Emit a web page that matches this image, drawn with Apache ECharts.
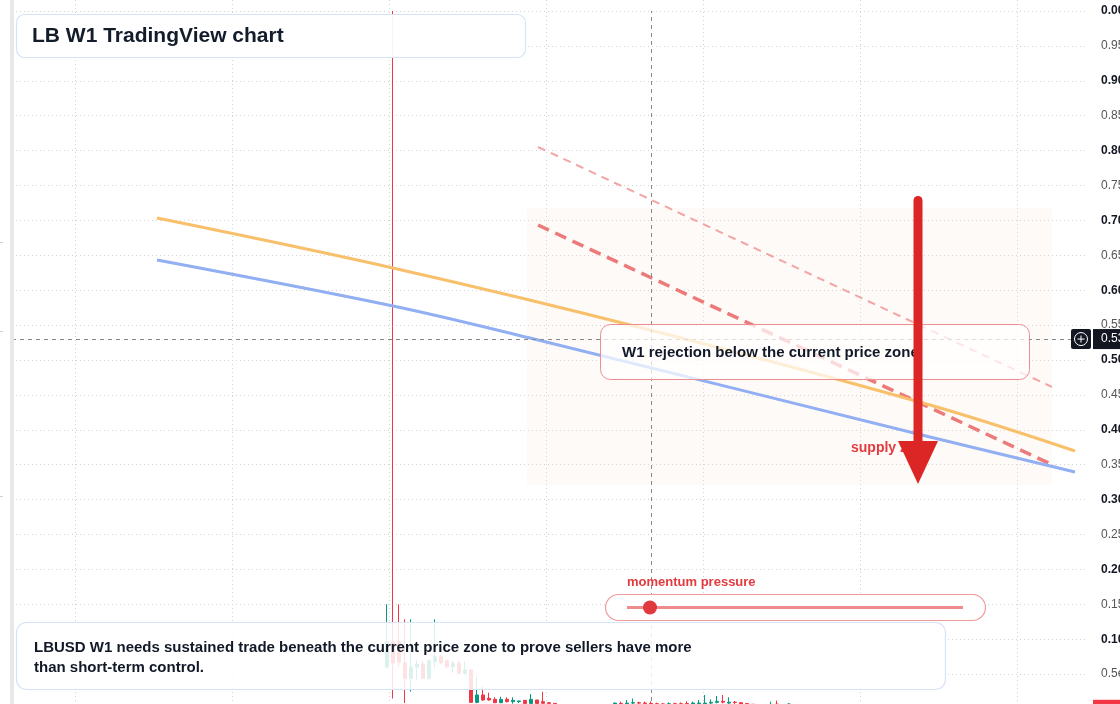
<!DOCTYPE html>
<html><head><meta charset="utf-8">
<script src="https://cdn.jsdelivr.net/npm/echarts@6/dist/echarts.min.js"></script>
<style>html,body{margin:0;padding:0;background:#fff;overflow:hidden}#c{width:1120px;height:704px}</style>
</head><body><div id="c"></div>
<script>
const FONT = '"Liberation Sans", Arial, Helvetica, sans-serif';
const TITLE = 'LB W1 TradingView chart';
const NOTE = 'W1 rejection below the current price zone';
const ZONE_LABEL = 'supply zone';
const MOMENTUM_LABEL = 'momentum pressure';
const FOOTER = 'LBUSD W1 needs sustained trade beneath the current price zone to prove sellers have more\nthan short-term control.';

// weekly categories
const WEEK_COUNT = 179;
const WEEKS = Array.from({length: WEEK_COUNT}, (_, i) => 'W' + (i + 1));

// right price-axis labels, from 1.00 (top) down in 0.05 steps
const Y_TICK_LABELS = ['0.00','0.95','0.90','0.85','0.80','0.75','0.70','0.65','0.60','0.55',
  '0.50','0.45','0.40','0.35','0.30','0.25','0.20','0.15','0.10','0.5e-1'];

// [week index, open, close, low, high]
const CANDLES = [
  [62, 0.060, 0.096, 0.058, 0.150],
  [63, 0.096, 0.066, 0.015, 1.000],
  [64, 0.097, 0.067, 0.060, 0.150],
  [65, 0.066, 0.044, 0.0086, 0.1285],
  [66, 0.044, 0.060, 0.025, 0.1285],
  [67, 0.060, 0.0645, 0.0415, 0.070],
  [68, 0.0645, 0.044, 0.044, 0.069],
  [69, 0.044, 0.069, 0.042, 0.071],
  [70, 0.068, 0.075, 0.0587, 0.1285],
  [71, 0.075, 0.0664, 0.064, 0.077],
  [72, 0.0693, 0.0607, 0.058, 0.071],
  [73, 0.0607, 0.0655, 0.052, 0.0693],
  [74, 0.0655, 0.051, 0.050, 0.0693],
  [75, 0.051, 0.0559, 0.049, 0.0678],
  [76, 0.0559, 0.0095, 0.009, 0.057],
  [77, 0.0095, 0.0201, 0.0082, 0.0458],
  [78, 0.0201, 0.0129, 0.0115, 0.032],
  [79, 0.0153, 0.0129, 0.012, 0.0234],
  [80, 0.0138, 0.009, 0.0085, 0.0168],
  [81, 0.009, 0.0138, 0.0085, 0.0177],
  [82, 0.0138, 0.0105, 0.0095, 0.0168],
  [83, 0.0105, 0.0124, 0.0076, 0.0168],
  [84, 0.0105, 0.0115, 0.0085, 0.012],
  [85, 0.0124, 0.008, 0.0075, 0.0125],
  [86, 0.008, 0.0138, 0.0075, 0.0215],
  [87, 0.0129, 0.008, 0.0074, 0.013],
  [88, 0.0105, 0.0082, 0.005, 0.0248],
  [89, 0.009, 0.008, 0.006, 0.0095],
  [90, 0.008, 0.006, 0.004, 0.0068],
  [91, 0.006, 0.005, 0.004, 0.0065],
  [92, 0.005, 0.0055, 0.004, 0.006],
  [93, 0.0055, 0.0048, 0.004, 0.006],
  [94, 0.0048, 0.0052, 0.004, 0.006],
  [95, 0.0052, 0.0045, 0.0035, 0.0058],
  [96, 0.0045, 0.005, 0.0035, 0.0058],
  [97, 0.005, 0.0046, 0.0035, 0.006],
  [98, 0.0046, 0.0052, 0.004, 0.0062],
  [99, 0.0052, 0.006, 0.0045, 0.0066],
  [100, 0.006, 0.0085, 0.005, 0.009],
  [101, 0.008, 0.0075, 0.005, 0.0105],
  [102, 0.0075, 0.0085, 0.005, 0.0129],
  [103, 0.0085, 0.009, 0.006, 0.015],
  [104, 0.009, 0.0085, 0.006, 0.0105],
  [105, 0.0085, 0.008, 0.006, 0.0105],
  [106, 0.008, 0.0075, 0.005, 0.011],
  [107, 0.0075, 0.007, 0.005, 0.009],
  [108, 0.0072, 0.0068, 0.005, 0.0085],
  [109, 0.0068, 0.0075, 0.005, 0.0095],
  [110, 0.0075, 0.007, 0.005, 0.009],
  [111, 0.0075, 0.007, 0.005, 0.0095],
  [112, 0.0078, 0.007, 0.005, 0.011],
  [113, 0.007, 0.0085, 0.005, 0.0105],
  [114, 0.0075, 0.0085, 0.006, 0.0129],
  [115, 0.0075, 0.0085, 0.006, 0.0201],
  [116, 0.0085, 0.0095, 0.007, 0.0138],
  [117, 0.0095, 0.011, 0.008, 0.0186],
  [118, 0.011, 0.0098, 0.008, 0.0201],
  [119, 0.0085, 0.0098, 0.007, 0.0168],
  [120, 0.0098, 0.0093, 0.0065, 0.0115],
  [121, 0.009, 0.0072, 0.006, 0.0098],
  [122, 0.0078, 0.0074, 0.006, 0.0085],
  [123, 0.0068, 0.006, 0.0045, 0.0069],
  [124, 0.006, 0.0055, 0.004, 0.0065],
  [125, 0.0055, 0.0058, 0.004, 0.0066],
  [126, 0.0055, 0.0065, 0.004, 0.0105],
  [127, 0.007, 0.006, 0.004, 0.012],
  [128, 0.006, 0.0058, 0.0045, 0.0068],
  [129, 0.006, 0.0072, 0.005, 0.0085],
  [130, 0.0065, 0.0055, 0.004, 0.0068],
  [131, 0.0055, 0.005, 0.0035, 0.006],
  [132, 0.005, 0.0042, 0.003, 0.0058],
  [133, 0.0042, 0.0038, 0.003, 0.0055],
  [134, 0.0038, 0.0032, 0.0025, 0.005],
  [135, 0.0032, 0.0025, 0.002, 0.0045],
  [136, 0.0025, 0.0018, 0.0012, 0.004],
  [137, 0.0018, 0.0012, 0.0008, 0.0035],
  [138, 0.0012, 0.0008, 0.0005, 0.003],
  [139, 0.0008, 0.0003, 0.0002, 0.0025]
];

// overlay curves: [week index, price]
const ORANGE_LINE = [[23.67, 0.7034], [63, 0.6318], [105.83, 0.5430], [152.5, 0.4355], [176.67, 0.3696]];
const BLUE_LINE = [[23.67, 0.6433], [63, 0.5774], [85.83, 0.5315], [152.5, 0.3897], [176.67, 0.3395]];
const RED_DASH_LINE = [[87.17, 0.6934], [173.33, 0.3481]];
const RED_LIGHT_LINE = [[87.17, 0.8052], [172.83, 0.4613]];
const SUPPLY_ZONE = [[85.33, 0.7178], [172.83, 0.3209]];
const CROSS_WEEK = 106;
const CROSS_PRICE = 0.53;
const CROSS_LABEL = '0.53';
const ARROW = {week: 150.5, from: 0.735, to: 0.3223};
const LAST_PRICE = 0.0003;

const candleData = WEEKS.map(() => '-');
CANDLES.forEach(([i, o, c, l, h]) => { candleData[i] = [o, c, l, h]; });

const UP = '#089981', DOWN = '#f23645';
const chart = echarts.init(document.getElementById('c'), null, {renderer: 'canvas'});

const option = {
  animation: false,
  backgroundColor: '#ffffff',
  textStyle: {fontFamily: FONT},
  grid: [
    {left: 12, width: 1074, top: 11, height: 698, containLabel: false, outerBoundsMode: 'none'},
    {left: -82, width: 1212, top: 0, height: 704, containLabel: false, outerBoundsMode: 'none'}
  ],
  xAxis: [
    {type: 'category', gridIndex: 0, data: WEEKS, show: false, boundaryGap: true},
    {type: 'value', gridIndex: 0, min: -0.5, max: WEEK_COUNT - 0.5, show: false},
    {type: 'value', gridIndex: 1, min: 0, max: 1212, interval: 157, show: true,
      axisLine: {show: false}, axisTick: {show: false}, axisLabel: {show: false},
      splitLine: {show: true, lineStyle: {color: '#d3d3d3', type: [1, 3], width: 1}}}
  ],
  yAxis: [
    {type: 'value', gridIndex: 0, position: 'right', min: 0, max: 1, interval: 0.05,
      axisLine: {show: false}, axisTick: {show: false},
      splitLine: {show: true, lineStyle: {color: '#d3d3d3', type: [1, 3], width: 1}},
      axisLabel: {
        margin: 15, align: 'left', fontFamily: FONT,
        formatter: (v) => {
          const k = Math.round((1 - v) / 0.05);
          if (k < 0 || k >= Y_TICK_LABELS.length) return '';
          return '{' + (k % 2 === 0 ? 'b' : 'r') + '|' + Y_TICK_LABELS[k] + '}';
        },
        rich: {
          b: {fontSize: 12, fontWeight: 'bold', color: '#131722', fontFamily: FONT},
          r: {fontSize: 12, color: '#555555', fontFamily: FONT}
        }
      }},
    {type: 'value', gridIndex: 1, min: 0, max: 1, show: false}
  ],
  series: [
    {type: 'line', name: 'zone', xAxisIndex: 1, yAxisIndex: 0, data: [], z: 1, silent: true,
      markArea: {silent: true, itemStyle: {color: 'rgba(250,225,205,0.16)'},
        data: [[{coord: SUPPLY_ZONE[0]}, {coord: SUPPLY_ZONE[1]}]]}},
    {type: 'candlestick', name: 'LBUSD', xAxisIndex: 0, yAxisIndex: 0, data: candleData, barWidth: 4, z: 3,
      itemStyle: {color: UP, color0: DOWN, borderColor: UP, borderColor0: DOWN, borderWidth: 1},
      markLine: {silent: true, symbol: ['none', 'none'], label: {show: false},
        lineStyle: {color: '#8a8a8a', type: [4, 4], width: 1},
        data: [{xAxis: CROSS_WEEK}, {yAxis: CROSS_PRICE}]}},
    {type: 'line', name: 'light resistance', xAxisIndex: 1, yAxisIndex: 0, data: RED_LIGHT_LINE, symbol: 'none', z: 4,
      lineStyle: {color: '#f2a5a5', width: 2, type: [8, 6]}},
    {type: 'line', name: 'resistance', xAxisIndex: 1, yAxisIndex: 0, data: RED_DASH_LINE, symbol: 'none', z: 4,
      lineStyle: {color: '#ec7a7a', width: 3.5, type: [12, 7]}},
    {type: 'line', name: 'orange', xAxisIndex: 1, yAxisIndex: 0, data: ORANGE_LINE, symbol: 'none', smooth: 0.35, z: 4,
      lineStyle: {color: '#f8c06a', width: 3}},
    {type: 'line', name: 'blue', xAxisIndex: 1, yAxisIndex: 0, data: BLUE_LINE, symbol: 'none', smooth: 0.35, z: 4,
      lineStyle: {color: '#91aff2', width: 3}}
  ]
};
chart.setOption(option);

const px = (w) => chart.convertToPixel({xAxisIndex: 1}, w);
const py = (v) => chart.convertToPixel({yAxisIndex: 0}, v);

const ax = px(ARROW.week), aTop = py(ARROW.from), aTip = py(ARROW.to);
const headH = 43, headW = 40;
const crossY = py(CROSS_PRICE);
const lastY = py(LAST_PRICE);

const graphic = [
  {type: 'rect', z: 100, shape: {x: 10, y: 0, width: 4, height: 704}, style: {fill: '#e8e8e8'}},
  {type: 'rect', z: 100, shape: {x: 0, y: 242, width: 3, height: 1}, style: {fill: '#cfcfcf'}},
  {type: 'rect', z: 100, shape: {x: 0, y: 331, width: 3, height: 1}, style: {fill: '#cfcfcf'}},
  {type: 'rect', z: 100, shape: {x: 0, y: 496, width: 3, height: 1}, style: {fill: '#cfcfcf'}},
  // title
  {type: 'rect', z: 100, shape: {x: 16.5, y: 14.5, width: 509, height: 43, r: 8},
    style: {fill: 'rgba(255,255,255,0.93)', stroke: '#d6e3f6', lineWidth: 1.2}},
  {type: 'text', z: 101, x: 32, y: 36, style: {text: TITLE, font: 'bold 21px ' + FONT, fill: '#131c2b', verticalAlign: 'middle'}},
  // note box
  {type: 'rect', z: 100, shape: {x: 600.5, y: 324.5, width: 429, height: 55, r: 10},
    style: {fill: 'rgba(255,255,255,0.72)', stroke: '#ec8e90', lineWidth: 1}},
  {type: 'text', z: 101, x: 622, y: 353, style: {text: NOTE, font: 'bold 15px ' + FONT, fill: '#111827', verticalAlign: 'middle'}},
  // supply label + arrow
  {type: 'text', z: 102, x: 851, y: 448, style: {text: ZONE_LABEL, font: 'bold 14px ' + FONT, fill: '#e53a3e', verticalAlign: 'middle'}},
  {type: 'rect', z: 110, shape: {x: ax - 4.5, y: aTop, width: 9, height: aTip - headH - aTop + 2, r: [4.5, 4.5, 0, 0]}, style: {fill: '#dc2626'}},
  {type: 'polygon', z: 110, shape: {points: [[ax - headW / 2, aTip - headH], [ax + headW / 2, aTip - headH], [ax, aTip]]}, style: {fill: '#dc2626'}},
  // momentum
  {type: 'text', z: 101, x: 627, y: 582, style: {text: MOMENTUM_LABEL, font: 'bold 13px ' + FONT, fill: '#e23b3f', verticalAlign: 'middle'}},
  {type: 'rect', z: 100, shape: {x: 605.5, y: 594.5, width: 380, height: 26, r: 13}, style: {fill: '#ffffff', stroke: '#f09a9b', lineWidth: 1.2}},
  {type: 'line', z: 101, shape: {x1: 627, y1: 607.5, x2: 963, y2: 607.5}, style: {stroke: '#ee8b8c', lineWidth: 3}},
  {type: 'circle', z: 102, shape: {cx: 650, cy: 607.5, r: 7}, style: {fill: '#e03a3e'}},
  // footer
  {type: 'rect', z: 100, shape: {x: 16.5, y: 622.5, width: 929, height: 67, r: 10},
    style: {fill: 'rgba(255,255,255,0.86)', stroke: '#d6e3f6', lineWidth: 1.2}},
  {type: 'text', z: 101, x: 34, y: 638, style: {text: FOOTER, font: 'bold 15px ' + FONT, fill: '#111827', lineHeight: 20, verticalAlign: 'top'}},
  // crosshair price badge
  {type: 'rect', z: 120, shape: {x: 1071, y: crossY - 10, width: 20, height: 20, r: 2}, style: {fill: '#131722'}},
  {type: 'circle', z: 121, shape: {cx: 1081, cy: crossY, r: 6.5}, style: {fill: 'none', stroke: '#ffffff', lineWidth: 1}},
  {type: 'line', z: 121, shape: {x1: 1077.5, y1: crossY, x2: 1084.5, y2: crossY}, style: {stroke: '#ffffff', lineWidth: 1}},
  {type: 'line', z: 121, shape: {x1: 1081, y1: crossY - 3.5, x2: 1081, y2: crossY + 3.5}, style: {stroke: '#ffffff', lineWidth: 1}},
  {type: 'rect', z: 120, shape: {x: 1093, y: crossY - 10, width: 30, height: 20}, style: {fill: '#131722'}},
  {type: 'text', z: 121, x: 1101, y: crossY, style: {text: CROSS_LABEL, font: '12px ' + FONT, fill: '#ffffff', verticalAlign: 'middle'}},
  // last price badge
  {type: 'rect', z: 120, shape: {x: 1093, y: lastY - 9, width: 30, height: 18}, style: {fill: '#f23645'}}
];
chart.setOption({graphic: graphic});
</script></body></html>
